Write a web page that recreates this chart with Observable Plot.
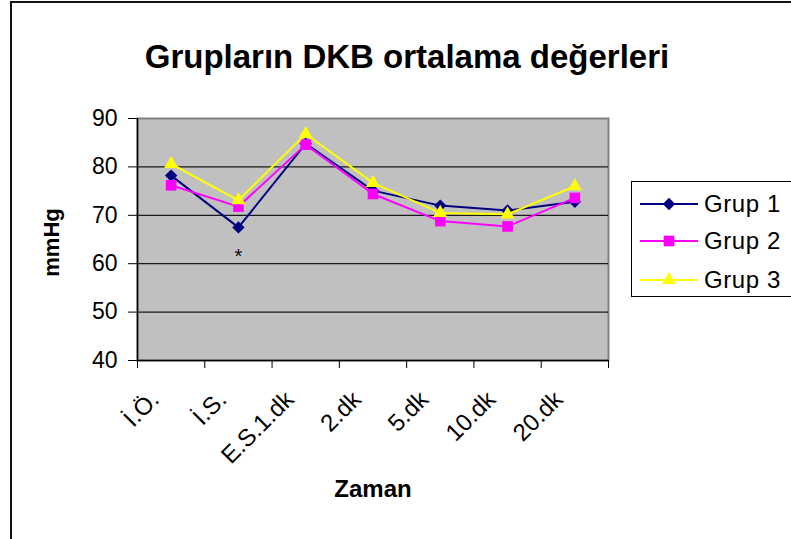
<!DOCTYPE html>
<html><head><meta charset="utf-8">
<script src="https://cdn.jsdelivr.net/npm/d3@7"></script>
<script src="https://cdn.jsdelivr.net/npm/@observablehq/plot@0.6"></script>
<style>
body{margin:0;background:#fff;}
#wrap{position:relative;width:791px;height:539px;overflow:hidden;font-family:"Liberation Sans",Arial,sans-serif;background:#fff;}
#wrap svg{position:absolute;left:0;top:0;}
#frameL{position:absolute;left:10px;top:1px;width:2px;height:538px;background:#111;}
#frameT{position:absolute;left:10px;top:1px;width:781px;height:2px;background:#111;}
#legend{position:absolute;left:631px;top:181px;width:200px;height:116px;border:1.5px solid #000;background:#fff;box-sizing:border-box;}
.lrow{position:absolute;left:8px;height:24px;display:flex;align-items:center;font-size:24px;letter-spacing:0.6px;color:#000;}
.lrow svg{position:static !important;margin-right:6px;}
</style></head><body><div id="wrap"></div>
<script>
const categories = ["İ.Ö.", "İ.S.", "E.S.1.dk", "2.dk", "5.dk", "10.dk", "20.dk"];
const grup1 = [78.2, 67.5, 84.8, 75.1, 72.0, 71.0, 72.8];
const grup2 = [76.2, 71.8, 84.6, 74.4, 68.8, 67.7, 73.6];
const grup3 = [80.6, 73.1, 86.8, 76.7, 70.5, 70.2, 76.0];
const seriesNames = ["Grup 1", "Grup 2", "Grup 3"];
const seriesColors = ["#000080", "#FF00FF", "#FFFF00"];
const seriesSymbols = ["diamond2", "square", "triangle"];
const yTicks = [40, 50, 60, 70, 80, 90];
const annotCategory = [1];
const annotValue = [61.5];
const annotLabel = ["*"];
const titleText = "Grupların DKB ortalama değerleri";
const xLabel = "Zaman";
const yLabel = "mmHg";

const seriesValues = [grup1, grup2, grup3];
const rows = vals => categories.map((c, i) => ({i, v: vals[i]}));
const annots = annotCategory.map((c, k) => ({i: c, v: annotValue[k], t: annotLabel[k]}));
const symR = {diamond2: 5.6, square: 6.0, triangle: 5.2};

const marks = [
  Plot.frame({fill: "#C0C0C0", stroke: "#808080", strokeWidth: 2}),
  Plot.ruleY(yTicks.filter(v => v > yTicks[0] && v < yTicks[yTicks.length - 1]), {stroke: "#1a1a1a", strokeWidth: 1.2}),
  Plot.ruleX([-0.5], {stroke: "#000", strokeWidth: 1.5}),
  Plot.ruleY([yTicks[0]], {stroke: "#000", strokeWidth: 1.5}),
  Plot.axisY({ticks: yTicks, tickSize: 9, tickPadding: 11, fontSize: 23, letterSpacing: "1px", tickFormat: d => String(d), label: null, stroke: "#000"}),
  Plot.axisX({ticks: d3.range(categories.length + 1).map(i => i - 0.5), tickSize: 8, tickFormat: () => "", label: null, stroke: "#000"}),
  Plot.axisX({ticks: d3.range(categories.length), tickSize: 0, tickPadding: 0, tickRotate: -45, fontSize: 24, letterSpacing: "1.6px", tickFormat: i => categories[i], label: null, dx: -16, dy: 35})
];
seriesValues.forEach((vals, k) => {
  marks.push(Plot.line(rows(vals), {x: "i", y: "v", stroke: seriesColors[k], strokeWidth: 2}));
  marks.push(Plot.dot(rows(vals), {x: "i", y: "v", symbol: seriesSymbols[k], fill: seriesColors[k], stroke: "none", r: symR[seriesSymbols[k]]}));
});
marks.push(Plot.text(annots, {x: "i", y: "v", text: "t", fontSize: 20, fill: "#000"}));
marks.push(Plot.text([yLabel], {frameAnchor: "left", textAnchor: "middle", dx: -86, dy: 3, rotate: -90, fontWeight: "bold", fontSize: 22, fill: "#000"}));
marks.push(Plot.text([xLabel], {frameAnchor: "bottom", dy: 136, fontWeight: "bold", fontSize: 24, fill: "#000", letterSpacing: "2px"}));
marks.push(Plot.text([titleText], {frameAnchor: "top", dx: 34, dy: -74, fontWeight: "bold", fontSize: 33, fill: "#000", letterSpacing: "0.3px"}));

const chart = Plot.plot({
  width: 791, height: 539,
  marginLeft: 137, marginRight: 183, marginTop: 118, marginBottom: 179,
  style: {fontFamily: "'Liberation Sans', Arial, sans-serif", background: "transparent", color: "#000", overflow: "visible"},
  x: {type: "linear", domain: [-0.5, categories.length - 0.5], axis: null},
  y: {domain: [yTicks[0], yTicks[yTicks.length - 1]], axis: null},
  marks
});
const wrap = document.getElementById("wrap");
wrap.appendChild(chart);
wrap.insertAdjacentHTML("beforeend", '<div id="frameL"></div><div id="frameT"></div><div id="legend"></div>');

const legend = document.getElementById("legend");
const rowTops = [10, 47, 86];
seriesNames.forEach((name, k) => {
  const row = document.createElement("div");
  row.className = "lrow";
  row.style.top = rowTops[k] + "px";
  const ns = "http://www.w3.org/2000/svg";
  const s = document.createElementNS(ns, "svg");
  s.setAttribute("width", 58); s.setAttribute("height", 24);
  const ln = document.createElementNS(ns, "line");
  ln.setAttribute("x1", 0); ln.setAttribute("x2", 58); ln.setAttribute("y1", 12); ln.setAttribute("y2", 12);
  ln.setAttribute("stroke", seriesColors[k]); ln.setAttribute("stroke-width", 2);
  s.appendChild(ln);
  const symMap = {diamond2: d3.symbolDiamond2, square: d3.symbolSquare, triangle: d3.symbolTriangle};
  const r = symR[seriesSymbols[k]];
  const p = document.createElementNS(ns, "path");
  p.setAttribute("d", d3.symbol(symMap[seriesSymbols[k]], Math.PI * r * r)());
  p.setAttribute("transform", "translate(29,12)");
  p.setAttribute("fill", seriesColors[k]);
  s.appendChild(p);
  row.appendChild(s);
  const t = document.createElement("span");
  t.textContent = name;
  row.appendChild(t);
  legend.appendChild(row);
});
</script>
</body></html>
